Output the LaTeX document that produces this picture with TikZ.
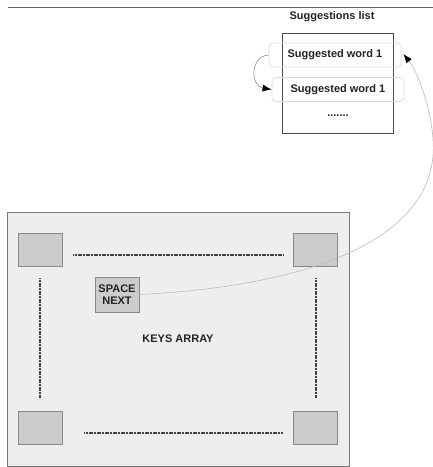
\documentclass[tikz,border=0pt]{standalone}
\usepackage{fontspec}
\setmainfont{Liberation Sans}
\usetikzlibrary{arrows.meta}
\definecolor{kbdfill}{HTML}{EEEEEE}
\definecolor{kbdline}{HTML}{777777}
\definecolor{keyfill}{HTML}{CCCCCC}
\definecolor{keyline}{HTML}{888888}
\definecolor{wordline}{HTML}{DDDDDD}
\definecolor{txt}{HTML}{222222}
\definecolor{curve}{HTML}{BBBBBB}
\tikzset{
  lbl/.style={font=\fontsize{11}{12.5}\selectfont\bfseries, text=txt, inner sep=0pt},
  keybox/.style={draw=keyline, fill=keyfill, line width=0.8pt, minimum width=44pt, minimum height=33pt, inner sep=0pt},
  wordbox/.style={lbl, draw=wordline, line width=0.8pt, rounded corners=4pt, minimum width=132pt, minimum height=24pt},
  dotline/.style={line width=2.4pt, draw=black!75, dash pattern=on 1.1pt off 0.5pt},
  tip/.style={-{Latex[length=9pt,width=7pt,color=black]}},
  link/.style={draw=curve, line width=0.6pt, tip},
}
\begin{document}
\begin{tikzpicture}[x=1pt,y=-1pt]
\useasboundingbox (0,0) rectangle (433,467);
% top rule
\coordinate (ruleL) at (8,7);
\coordinate (ruleR) at (433,7);
\draw[draw=black!60, line width=0.8pt] (ruleL) -- (ruleR);
% suggestions list
\node[lbl] (title) at (332,17) {Suggestions list};
\node[draw=black!70, line width=0.8pt, minimum width=111pt, minimum height=100pt, inner sep=0pt] (list) at (337.5,83) {};
\node[wordbox] (w1) at (335,55) {Suggested word 1};
\node[wordbox] (w2) at (338,89.5) {Suggested word 1};
\node[lbl] (dots) at (338,116) {.......};
\draw[draw=black!45, line width=0.6pt, tip] (w1.west) .. controls (250,56) and (250,86) .. (w2.west);
% keyboard
\node[lbl, draw=kbdline, fill=kbdfill, line width=0.9pt, minimum width=342pt, minimum height=254pt] (kbd) at (178,339) {KEYS ARRAY};
\node[keybox] (ktl) at (40,249.5) {};
\node[keybox] (ktr) at (315,249.5) {};
\node[keybox] (kbl) at (40,427.5) {};
\node[keybox] (kbr) at (315,427.5) {};
\node[keybox, lbl, minimum width=44pt, minimum height=35pt, align=center] (space) at (117,294.5) {SPACE\\NEXT};
% dotted rows of keys
\draw[dotline] (73,255) -- (283,255);
\draw[dotline] (84,433) -- (283,433);
\draw[dotline] (40,278) -- (40,398);
\draw[dotline] (316,278) -- (316,398);
% link from SPACE NEXT to the first suggestion
\coordinate (bend) at (433,140);
\draw[link] (space.east) .. controls (330,285) and (440,230) .. (bend)
  .. controls (432,115) and (420,75) .. ([xshift=2pt,yshift=1pt]w1.east);
\end{tikzpicture}
\end{document}
